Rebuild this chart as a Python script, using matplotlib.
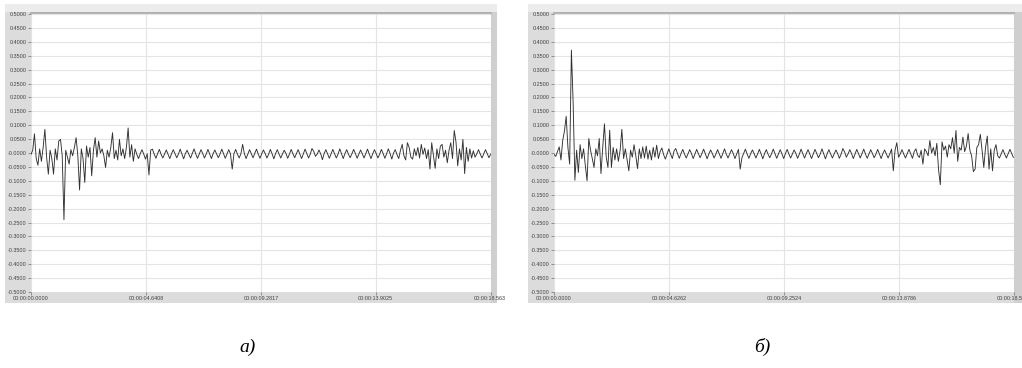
import numpy as np
import matplotlib
matplotlib.use("Agg")
import matplotlib.pyplot as plt
from matplotlib.patches import Rectangle
from matplotlib.transforms import Bbox, TransformedBbox

# sample step of the recorded signals, s
dt = 0.07

# panel а) signal values
sig_a = [
    -0.005, 0.010, 0.069, -0.020, -0.044, 0.015, -0.030, 0.020, 0.085, -0.015, -0.076, 0.010, -0.020, -0.076, 0.015, -0.025, 0.043, 0.049, -0.010, -0.240,
    0.010, -0.015, -0.040, 0.012, -0.010, 0.020, 0.055, -0.010, -0.133, 0.015, -0.020, -0.106, 0.025, -0.015, 0.020, -0.082, 0.010, 0.055, -0.015, 0.043,
    0.000, 0.015, -0.010, -0.052, 0.010, -0.015, 0.020, 0.073, -0.020, 0.010, -0.025, 0.049, -0.010, 0.015, -0.020, 0.020, 0.090, -0.015, 0.030, -0.030,
    0.015, -0.005, -0.020, -0.002, 0.012, -0.004, -0.022, -0.003, -0.079, 0.010, 0.014, -0.004, -0.019, -0.002, 0.013, -0.005, -0.018, -0.003, 0.011, -0.004,
    -0.020, -0.003, 0.012, -0.002, -0.017, -0.004, 0.014, -0.003, -0.021, -0.002, 0.010, -0.005, -0.018, -0.001, 0.015, -0.004, -0.019, -0.003, 0.012, -0.002,
    -0.018, -0.004, 0.013, -0.003, -0.020, -0.002, 0.011, -0.004, -0.017, -0.003, 0.014, -0.002, -0.019, -0.004, 0.012, -0.003, -0.058, -0.002, 0.013, -0.004,
    -0.018, -0.003, 0.031, -0.002, -0.020, -0.004, 0.012, -0.003, -0.017, -0.002, 0.014, -0.004, -0.019, -0.003, 0.011, -0.002, -0.018, -0.004, 0.013, -0.003,
    -0.021, -0.002, 0.012, -0.004, -0.018, -0.003, 0.010, -0.002, -0.019, -0.004, 0.013, -0.003, -0.017, -0.002, 0.012, -0.004, -0.020, -0.003, 0.014, -0.002,
    -0.018, -0.004, 0.016, 0.006, -0.012, -0.004, 0.011, -0.003, -0.024, -0.002, 0.012, -0.004, -0.019, -0.003, 0.013, -0.002, -0.018, -0.004, 0.015, -0.003,
    -0.020, -0.002, 0.012, -0.004, -0.017, -0.003, 0.013, -0.002, -0.019, -0.004, 0.011, -0.003, -0.018, -0.002, 0.014, -0.004, -0.020, -0.003, 0.012, -0.002,
    -0.018, -0.004, 0.013, -0.002, -0.019, -0.003, 0.015, -0.002, -0.022, 0.000, 0.012, -0.006, -0.020, 0.010, 0.031, -0.010, -0.025, 0.037, 0.020, -0.015,
    -0.022, 0.015, -0.010, 0.020, -0.018, 0.031, -0.005, 0.018, -0.020, 0.012, -0.058, 0.037, -0.010, -0.055, 0.015, -0.020, 0.025, 0.031, -0.015, 0.010,
    -0.035, 0.010, 0.037, -0.020, 0.081, 0.040, -0.046, 0.015, -0.025, 0.049, -0.074, 0.020, -0.030, 0.015, -0.018, 0.008, -0.015, -0.003, 0.012, -0.004,
    -0.018, -0.003, 0.012, -0.002, -0.017, -0.004,
]

# panel б) signal values
sig_b = [
    -0.005, -0.012, 0.005, 0.022, -0.025, 0.045, 0.079, 0.132, 0.020, -0.040, 0.370, 0.180, -0.098, 0.010, -0.070, 0.030, -0.020, 0.015, -0.045, -0.100,
    0.052, 0.010, -0.020, -0.052, 0.015, -0.010, 0.052, -0.074, 0.020, 0.105, -0.015, -0.052, 0.082, -0.052, 0.020, -0.025, 0.015, -0.030, 0.010, 0.085,
    -0.020, 0.015, -0.025, -0.064, 0.010, -0.015, 0.030, -0.010, -0.056, 0.015, -0.020, 0.022, -0.018, 0.025, -0.022, 0.010, -0.025, 0.020, -0.015, 0.028,
    -0.020, 0.005, 0.018, -0.006, -0.022, -0.003, 0.015, -0.004, -0.020, 0.008, 0.016, -0.003, -0.019, -0.002, 0.013, -0.004, -0.018, -0.003, 0.012, -0.002,
    -0.020, -0.004, 0.013, -0.003, -0.017, -0.002, 0.014, -0.004, -0.021, -0.003, 0.011, -0.002, -0.018, -0.004, 0.012, -0.003, -0.019, -0.002, 0.015, -0.004,
    -0.018, -0.003, 0.012, -0.002, -0.020, -0.004, 0.013, -0.058, -0.017, -0.002, 0.014, -0.004, -0.019, -0.003, 0.011, -0.002, -0.018, -0.004, 0.013, -0.003,
    -0.021, -0.002, 0.012, -0.004, -0.017, -0.003, 0.014, -0.002, -0.019, -0.004, 0.012, -0.003, -0.020, -0.002, 0.013, -0.004, -0.018, -0.003, 0.011, -0.002,
    -0.019, -0.004, 0.014, -0.003, -0.018, -0.002, 0.012, -0.004, -0.020, -0.003, 0.013, -0.002, -0.017, -0.004, 0.015, -0.003, -0.021, -0.002, 0.012, -0.004,
    -0.018, -0.003, 0.011, -0.002, -0.019, -0.004, 0.016, 0.004, -0.015, -0.003, 0.012, -0.002, -0.020, -0.004, 0.013, -0.003, -0.018, -0.002, 0.014, -0.004,
    -0.019, -0.003, 0.012, -0.002, -0.017, -0.004, 0.013, -0.003, -0.020, -0.002, 0.011, -0.004, -0.018, -0.003, 0.014, -0.064, 0.010, 0.037, -0.015, -0.003,
    0.012, -0.004, -0.018, -0.002, 0.013, -0.003, -0.019, 0.005, 0.015, -0.008, -0.016, 0.010, -0.040, 0.015, 0.005, -0.010, 0.045, 0.000, 0.020, -0.010,
    0.035, -0.060, -0.114, 0.040, 0.010, 0.025, -0.015, 0.030, 0.015, 0.055, 0.000, 0.081, -0.030, 0.020, 0.010, 0.057, 0.005, 0.025, 0.070, 0.010,
    -0.010, -0.067, -0.058, 0.020, 0.030, 0.067, 0.010, -0.052, 0.020, 0.061, -0.058, 0.015, -0.064, 0.010, 0.030, -0.010, -0.018, -0.003, 0.012, -0.004,
    -0.018, -0.003, 0.013, -0.002, -0.016,
]

# time ticks of each panel, s
ticks_a = [0.0, 4.6408, 9.2817, 13.9025, 18.5633]
ticks_b = [0.0, 4.6262, 9.2524, 13.8786, 18.5048]
tick_labels_a = ["00:00:00.0000", "00:00:04.6408", "00:00:09.2817", "00:00:13.9025", "00:00:18.5633"]
tick_labels_b = ["00:00:00.0000", "00:00:04.6262", "00:00:09.2524", "00:00:13.8786", "00:00:18.5048"]

y_ticks = [round(-0.5 + 0.05 * k, 2) for k in range(21)]
y_labels = ["%.4f" % v if v != 0 else "-0.0000" for v in y_ticks]

captions = ["а)", "б)"]

W, H = 1022, 368
fig = plt.figure(figsize=(W / 100, H / 100), dpi=100)
fig.patch.set_facecolor("white")


def fx(px):
    return px / W


def fy(py):
    return 1 - py / H


def frame(x0, x1, ax_right):
    # grey window around the plot: side band, top strip, right bar
    fig.add_artist(Rectangle((fx(x0), fy(303)), fx(x1 - x0), (303 - 4) / H,
                             transform=fig.transFigure, facecolor="#dcdcdc",
                             edgecolor="none", zorder=0))
    fig.add_artist(Rectangle((fx(x0), fy(12)), fx(x1 - x0), 8 / H,
                             transform=fig.transFigure, facecolor="#ececec",
                             edgecolor="none", zorder=0))
    fig.add_artist(Rectangle((fx(ax_right), fy(303)), fx(x1 - ax_right), (303 - 12) / H,
                             transform=fig.transFigure, facecolor="#cfcfcf",
                             edgecolor="none", zorder=0))


def panel(left, right, sig, ticks, labels, clip_right):
    ax = fig.add_axes([fx(left), fy(292), fx(right - left), 279 / H])
    ax.set_facecolor("white")
    t = np.arange(len(sig)) * dt
    ax.plot(t, sig, color="#303030", lw=0.65)
    ax.set_xlim(0, ticks[-1])
    ax.set_ylim(-0.5, 0.5036)
    ax.set_yticks(y_ticks)
    ax.set_yticklabels(y_labels)
    ax.set_xticks(ticks)
    ax.set_xticklabels(labels)
    ax.grid(True, color="#e4e4e4", lw=0.8)
    ax.set_axisbelow(True)
    for s in ["left", "right", "bottom"]:
        ax.spines[s].set_visible(False)
    ax.spines["top"].set_color("#a8a8a8")
    ax.spines["top"].set_linewidth(1.2)
    ax.tick_params(axis="both", length=2, width=0.5, color="#707070",
                   labelsize=3.9, labelcolor="#404040", pad=1)
    for lab in ax.get_xticklabels() + ax.get_yticklabels():
        lab.set_fontfamily("Liberation Sans")
    box = TransformedBbox(Bbox([[0, 0], [fx(clip_right), 1]]), fig.transFigure)
    for lab in ax.get_xticklabels():
        lab.set_clip_on(True)
        lab.set_clip_box(box)
    return ax


frame(5, 497, 491)
panel(31, 491, sig_a, ticks_a, tick_labels_a, 505)

frame(528, 1022, 1014)
panel(554, 1014, sig_b, ticks_b, tick_labels_b, 1022)

fig.text(fx(248), fy(347), captions[0], ha="center", va="center",
         fontsize=14, fontstyle="italic", family="Liberation Serif")
fig.text(fx(762), fy(347), captions[1], ha="center", va="center",
         fontsize=14, fontstyle="italic", family="Liberation Serif")

fig.savefig("out.png", dpi=100)
